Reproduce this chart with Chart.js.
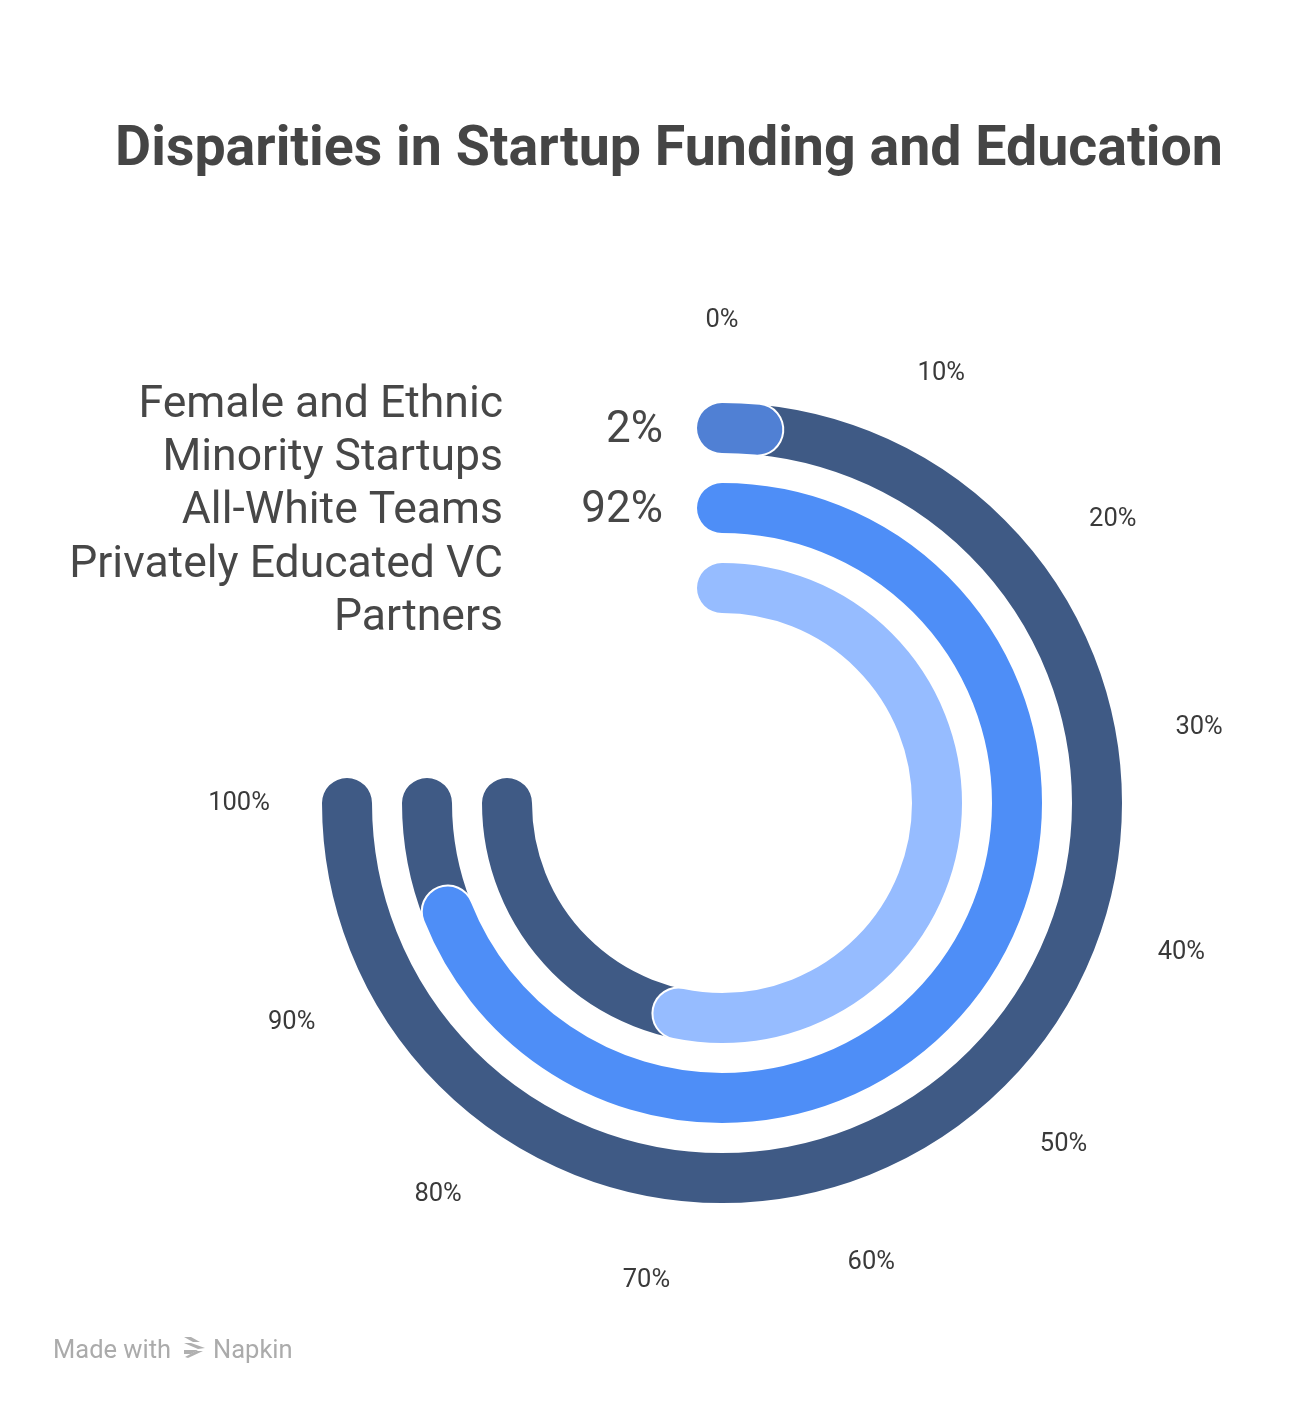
<!DOCTYPE html>
<html>
<head>
<meta charset="utf-8">
<title>Disparities in Startup Funding and Education</title>
<script src="https://cdn.jsdelivr.net/npm/chart.js@4.4.1/dist/chart.umd.min.js"></script>
<style>
  html, body { margin: 0; padding: 0; background: #fff; }
  body { width: 1292px; height: 1412px; overflow: hidden; }
  canvas { display: block; }
</style>
</head>
<body>
<canvas id="radialChart" width="1292" height="1412"></canvas>
<script>
// Chart data
const chartTitle = 'Disparities in Startup Funding and Education';
const categories = [
    ['Female and Ethnic', 'Minority Startups'],
    ['All-White Teams'],
    ['Privately Educated VC', 'Partners']
];
const values = [2, 92, 71];
const valueLabels = ['2%', '92%', ''];
const tickValues = [0, 10, 20, 30, 40, 50, 60, 70, 80, 90, 100];
const tickLabels = ['0%', '10%', '20%', '30%', '40%', '50%', '60%', '70%', '80%', '90%', '100%'];

const trackColor = '#3F5A85';
const valueColors = ['#5080D4', '#4E8EF7', '#96BCFF'];
const textColor = '#474747';
const fontFamily = 'Roboto, "Noto Sans", sans-serif';

// Draws each ring as a round-capped stroke using the arc geometry Chart.js computed
const ringPlugin = {
    id: 'ringPlugin',
    beforeDatasetsDraw(chart) {
        const ctx = chart.ctx;
        chart.data.datasets.forEach((ds, i) => {
            const meta = chart.getDatasetMeta(i);
            const valueArc = meta.data[0];
            const restArc = meta.data[1];
            const r = (valueArc.innerRadius + valueArc.outerRadius) / 2;
            const width = (valueArc.outerRadius - valueArc.innerRadius) * 0.625;

            ctx.save();
            ctx.lineCap = 'round';

            // background track
            ctx.beginPath();
            ctx.arc(valueArc.x, valueArc.y, r, valueArc.startAngle, restArc.endAngle);
            ctx.strokeStyle = trackColor;
            ctx.lineWidth = width;
            ctx.stroke();

            // value arc with a thin white outline
            ctx.beginPath();
            ctx.arc(valueArc.x, valueArc.y, r, valueArc.startAngle, valueArc.endAngle);
            ctx.strokeStyle = '#ffffff';
            ctx.lineWidth = width + 4;
            ctx.stroke();
            ctx.strokeStyle = ds.backgroundColor[0];
            ctx.lineWidth = width;
            ctx.stroke();
            ctx.restore();
        });
        return false;
    },
    afterDraw(chart) {
        const ctx = chart.ctx;
        const meta0 = chart.getDatasetMeta(0);
        const cx = meta0.data[0].x;
        const cy = meta0.data[0].y;
        const rotation = chart.options.rotation;
        const circumference = chart.options.circumference;

        ctx.save();
        // title
        ctx.fillStyle = '#454545';
        ctx.font = 'bold 55.5px ' + fontFamily;
        ctx.textAlign = 'center';
        ctx.textBaseline = 'alphabetic';
        ctx.fillText(chartTitle, 669, 165);

        // tick labels around the ring
        ctx.font = '25.5px ' + fontFamily;
        ctx.fillStyle = '#3a3a3a';
        ctx.textBaseline = 'middle';
        const tickRadius = meta0.data[0].outerRadius + 68;
        tickValues.forEach((t, k) => {
            const ang = (rotation + circumference * t / 100) * Math.PI / 180;
            const tx = cx + tickRadius * Math.sin(ang);
            const ty = cy - tickRadius * Math.cos(ang);
            ctx.fillText(tickLabels[k], tx, ty + 0.5);
        });

        // category and value labels next to each ring start
        ctx.textAlign = 'right';
        chart.data.datasets.forEach((ds, i) => {
            const arc = chart.getDatasetMeta(i).data[0];
            const ringY = cy - (arc.innerRadius + arc.outerRadius) / 2;
            const lines = categories[i];
            const lineH = 53;
            ctx.fillStyle = textColor;
            ctx.font = '44.5px ' + fontFamily;
            lines.forEach((line, j) => {
                const ly = ringY + (j - (lines.length - 1) / 2) * lineH;
                ctx.fillText(line, cx - 219, ly + 4);
            });
            if (valueLabels[i]) {
                ctx.font = '44px ' + fontFamily;
                ctx.fillText(valueLabels[i], cx - 59, ringY + 3);
            }
        });

        // footer
        ctx.textAlign = 'left';
        ctx.textBaseline = 'alphabetic';
        ctx.fillStyle = '#ababab';
        ctx.font = '25.5px ' + fontFamily;
        ctx.fillText('Made with', 53, 1358);
        ctx.fillText('Napkin', 213, 1358);
        // napkin logo
        ctx.fillStyle = '#b0b0b0';
        const stripes = [
            [[184, 1337], [191, 1337], [200, 1342], [193, 1342]],
            [[184, 1343], [191, 1343], [205, 1348], [198, 1349]],
            [[184, 1350], [198, 1350], [191, 1354], [184, 1354]],
            [[185, 1357], [196, 1351], [203, 1351], [188, 1358]]
        ];
        stripes.forEach(p => {
            ctx.beginPath();
            ctx.moveTo(p[0][0], p[0][1]);
            for (let k = 1; k < p.length; k++) ctx.lineTo(p[k][0], p[k][1]);
            ctx.closePath();
            ctx.fill();
        });
        ctx.restore();
    }
};

document.addEventListener('DOMContentLoaded', () => {
    const canvas = document.getElementById('radialChart');
    const ctx = canvas.getContext('2d');

    const datasets = values.map((v, i) => ({
        label: categories[i].join(' '),
        data: [v, 100 - v],
        backgroundColor: [valueColors[i], trackColor],
        borderWidth: 0
    }));

    new Chart(ctx, {
        type: 'doughnut',
        data: {
            labels: ['Value', 'Remaining'],
            datasets: datasets
        },
        options: {
            responsive: false,
            animation: false,
            rotation: 0,
            circumference: 270,
            cutout: 175,
            layout: {
                padding: { left: 307, right: 155, top: 388, bottom: 194 }
            },
            plugins: {
                legend: { display: false },
                tooltip: { enabled: false },
                title: { display: false }
            }
        },
        plugins: [ringPlugin]
    });
});
</script>
</body>
</html>
